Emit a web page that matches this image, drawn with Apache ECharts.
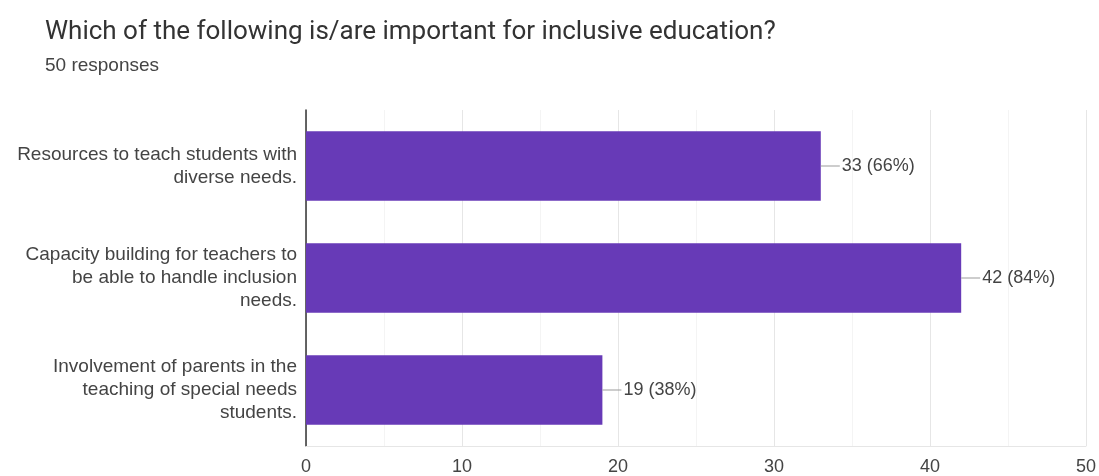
<!DOCTYPE html>
<html>
<head>
<meta charset="utf-8">
<script src="https://cdn.jsdelivr.net/npm/echarts@6/dist/echarts.min.js"></script>
<style>
html,body{margin:0;padding:0;background:#fff;}
#chart{width:1099px;height:476px;}
</style>
</head>
<body>
<div id="chart"></div>
<script>
var titleText = 'Which of the following is/are important for inclusive education?';
var subText = '50 responses';
var categories = [
  'Resources to teach students with\ndiverse needs.',
  'Capacity building for teachers to\nbe able to handle inclusion\nneeds.',
  'Involvement of parents in the\nteaching of special needs\nstudents.'
];
var counts = [33, 42, 19];
var percents = [66, 84, 38];
var xTicks = [0, 10, 20, 30, 40, 50];

var chart = echarts.init(document.getElementById('chart'));
chart.setOption({
  animation: false,
  backgroundColor: '#ffffff',
  title: {
    text: titleText,
    subtext: subText,
    left: 40,
    top: 14,
    itemGap: 11,
    textStyle: { fontFamily: 'Roboto', fontSize: 26, fontWeight: 'normal', color: '#333333' },
    subtextStyle: { fontFamily: 'Liberation Sans', fontSize: 19, color: '#444444' }
  },
  grid: { left: 306, right: 12, top: 110, bottom: 29, containLabel: false },
  xAxis: {
    type: 'value',
    min: xTicks[0],
    max: xTicks[xTicks.length - 1],
    interval: 10,
    axisLine: { show: true, lineStyle: { color: '#e6e6e6', width: 1 } },
    axisTick: { show: false },
    axisLabel: { fontFamily: 'Liberation Sans', fontSize: 18, color: '#444444', margin: 12 },
    splitLine: { show: true, lineStyle: { color: '#e6e6e6', width: 1 } },
    minorTick: { show: false, splitNumber: 2 },
    minorSplitLine: { show: true, lineStyle: { color: '#f4f4f4', width: 1 } }
  },
  yAxis: {
    type: 'category',
    inverse: true,
    data: categories,
    axisLine: { show: true, lineStyle: { color: '#333333', width: 1.5 } },
    axisTick: { show: false },
    axisLabel: {
      fontFamily: 'Liberation Sans', fontSize: 19, lineHeight: 23,
      color: '#444444', align: 'right', margin: 9
    }
  },
  series: [{
    type: 'bar',
    data: counts,
    barCategoryGap: '38%',
    itemStyle: { color: '#673ab7' },
    label: {
      show: true,
      position: 'right',
      distance: 0,
      formatter: function (p) {
        return '{l|}{t|' + counts[p.dataIndex] + ' (' + percents[p.dataIndex] + '%)}';
      },
      rich: {
        l: { width: 19, height: 1, backgroundColor: '#9a9a9a' },
        t: { fontFamily: 'Liberation Sans', fontSize: 18, color: '#444444', padding: [0, 0, 0, 2] }
      }
    }
  }]
});
</script>
</body>
</html>
